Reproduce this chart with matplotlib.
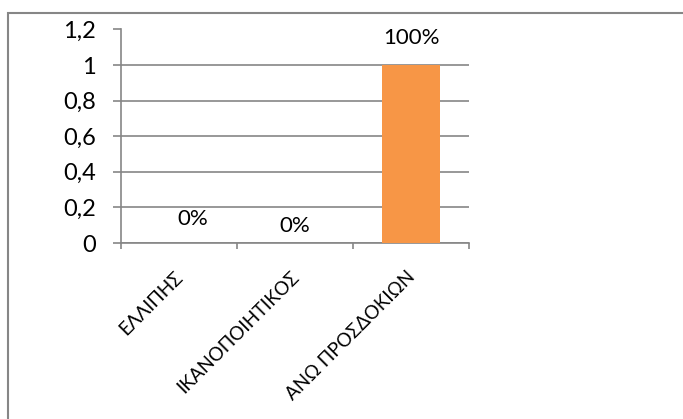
import matplotlib
matplotlib.use("Agg")
import matplotlib.pyplot as plt
from matplotlib.patches import Rectangle
from matplotlib.ticker import FuncFormatter, MultipleLocator
from matplotlib.transforms import ScaledTranslation

categories = ["ΕΛΛΙΠΗΣ", "ΙΚΑΝΟΠΟΙΗΤΙΚΟΣ", "ΑΝΩ ΠΡΟΣΔΟΚΙΩΝ"]
values = [0.0, 0.0, 1.0]
value_labels = ["0%", "0%", "100%"]

plt.rcParams["font.family"] = ["Lato", "DejaVu Sans"]

grey = "#868686"
fig = plt.figure(figsize=(6.83, 4.19), dpi=100)
fig.patch.set_facecolor("white")

# outer chart frame (open at right and bottom)
fig.patches.append(Rectangle((8 / 683, -0.1), 1.2, 1 - 13 / 419 + 0.1,
                             transform=fig.transFigure, fill=False,
                             edgecolor=grey, linewidth=1.5))

ax = fig.add_axes([121 / 683, 1 - 243 / 419, 348 / 683, (243 - 29.5) / 419])
x = list(range(len(categories)))
ax.bar(x, values, width=0.5, color="#F79646", zorder=3)

ax.set_xlim(-0.5, len(categories) - 0.5)
ax.set_ylim(0, 1.2)
ax.yaxis.set_major_locator(MultipleLocator(0.2))
ax.yaxis.set_major_formatter(FuncFormatter(
    lambda v, _: ("%g" % round(v, 1)).replace(".", ",")))
ax.grid(axis="y", color=grey, linewidth=1.2, zorder=0)

for side in ("top", "right"):
    ax.spines[side].set_visible(False)
for side in ("left", "bottom"):
    ax.spines[side].set_color(grey)
    ax.spines[side].set_linewidth(1.2)

ax.tick_params(axis="y", length=6, width=1.2, color=grey, labelsize=17,
               pad=12, labelcolor="black")
ax.set_xticks([i - 0.5 for i in range(len(categories) + 1)], minor=False)
ax.set_xticklabels([])
ax.set_xticks(x, minor=True)
ax.set_xticklabels(categories, minor=True, rotation=45, ha="right",
                   rotation_mode="anchor", fontsize=13.5)
ax.tick_params(axis="x", which="major", length=4.5, width=1.2, color=grey)
ax.tick_params(axis="x", which="minor", length=0, pad=18)
shift = ScaledTranslation(-5 / 100, 0, fig.dpi_scale_trans)
for lbl in ax.get_xticklabels(minor=True):
    lbl.set_transform(lbl.get_transform() + shift)

offsets = [(10, 10), (0, 5), (0, 12)]
for xi, v, lab, off in zip(x, values, value_labels, offsets):
    ax.annotate(lab, (xi, v), xytext=off, textcoords="offset points",
                ha="center", va="bottom", fontsize=16)

fig.savefig("out.png", dpi=100, facecolor="white")
